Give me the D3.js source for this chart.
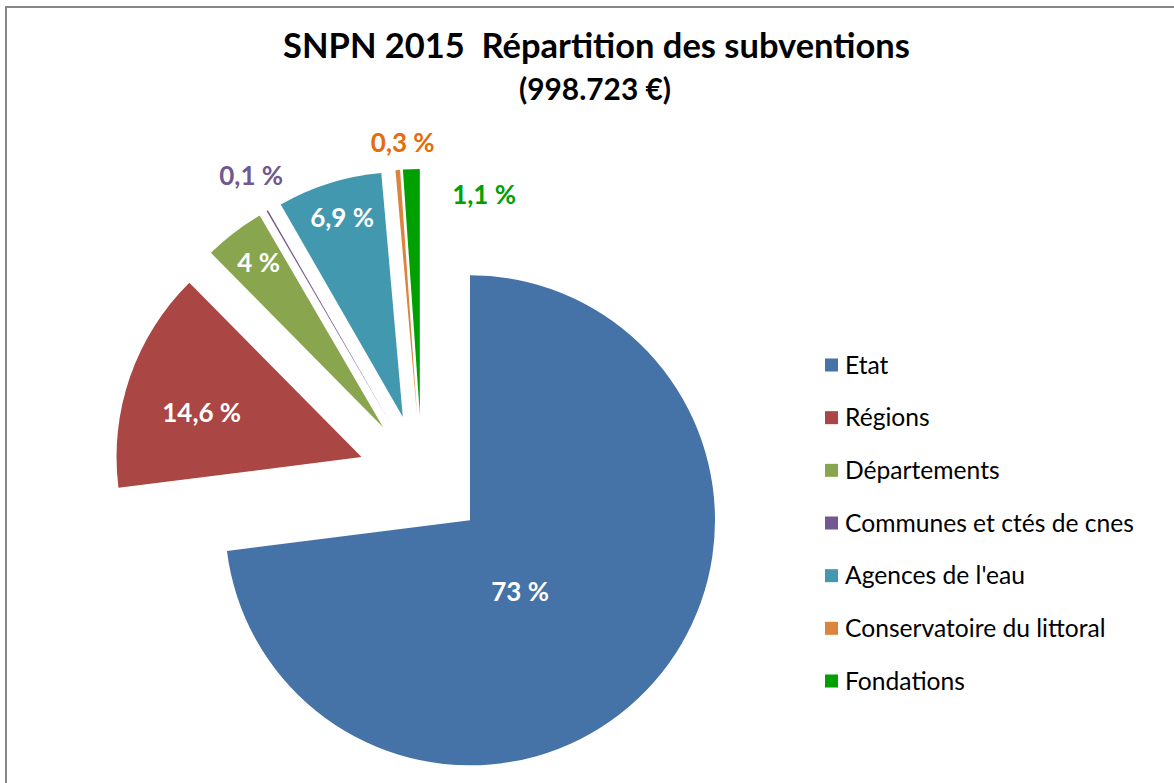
<!DOCTYPE html>
<html><head><meta charset="utf-8">
<script src="https://cdn.jsdelivr.net/npm/d3@7"></script>
<style>html,body{margin:0;padding:0;background:#fff;}svg{display:block;}</style>
</head><body>
<svg id="chart" width="1174" height="783"></svg>
<script>
// ---- data ----
const categories = ["Etat","Régions","Départements","Communes et ctés de cnes","Agences de l'eau","Conservatoire du littoral","Fondations"];
const values = [73, 14.6, 4, 0.1, 6.9, 0.3, 1.1];
const labels = ["73 %","14,6 %","4 %","0,1 %","6,9 %","0,3 %","1,1 %"];
const colors = ["#4572A7","#AA4643","#89A54E","#71588F","#4198AF","#DB843D","#00A000"];
const labelColors = ["#fff","#fff","#fff","#71588F","#fff","#E46C0A","#00A000"];
const titleText = "SNPN 2015  Répartition des subventions";
const subtitleText = "(998.723 €)";

// ---- layout ----
const FONT = "Lato, 'Open Sans', sans-serif";
const svg = d3.select("#chart");
const cx = 422, cy = 478, R = 245, explode = 64;
// label placement: angular shift (deg) and radius
const labelPlace = [
  {shift: 13.4, r: 87},
  {shift: -3.4, r: 166},
  {shift: 0.3, r: 206},
  {shift: 0.7, r: 283},
  {shift: 0.5, r: 208},
  {shift: 1.5, r: 272},
  {shift: 18.3, r: 229}
];

// border
svg.append("path").attr("d","M6,783 V7 H1174").attr("fill","none").attr("stroke","#878787").attr("stroke-width",2);

function fit(sel, target){
  const w = sel.node().getComputedTextLength();
  const fs = parseFloat(sel.attr("font-size"));
  sel.attr("font-size", fs*target/w);
}

// title
const t1 = svg.append("text").attr("x",596.5).attr("y",58).attr("text-anchor","middle")
  .style("white-space","pre").attr("xml:space","preserve")
  .attr("font-family",FONT).attr("font-weight","bold").attr("font-size",30).attr("fill","#000").text(titleText);
fit(t1, 627);
const t2 = svg.append("text").attr("x",595).attr("y",100).attr("text-anchor","middle")
  .attr("font-family",FONT).attr("font-weight","bold").attr("font-size",22).attr("fill","#000").text(subtitleText);
fit(t2, 152);

// pie
const pie = d3.pie().sort(null).startAngle(0).endAngle(2*Math.PI)(values);
const arc = d3.arc().innerRadius(0).outerRadius(R);
const g = svg.append("g").attr("transform",`translate(${cx},${cy})`);
const slices = g.selectAll("g.slice").data(pie).join("g").attr("class","slice")
  .attr("transform", d => {
    const m = (d.startAngle + d.endAngle)/2;
    return `translate(${explode*Math.sin(m)},${-explode*Math.cos(m)})`;
  });
slices.append("path").attr("d", arc).attr("fill",(d,i)=>colors[i]);

// labels
const lab = slices.append("text")
  .attr("transform",(d,i)=>{
    const a = (d.startAngle + d.endAngle)/2 + labelPlace[i].shift*Math.PI/180;
    const r = labelPlace[i].r;
    return `translate(${r*Math.sin(a)},${-r*Math.cos(a)})`;
  })
  .attr("text-anchor","middle").attr("dy","0.36em")
  .attr("font-family",FONT).attr("font-weight","bold").attr("font-size",24)
  .attr("fill",(d,i)=>labelColors[i]).text((d,i)=>labels[i]);
const w146 = lab.filter((d,i)=>i===1).node().getComputedTextLength();
lab.attr("font-size", 24*79/w146);

// legend
const leg = svg.append("g");
const rowY = d3.scaleLinear().domain([0,6]).range([365,681]);
const items = leg.selectAll("g").data(categories).join("g").attr("transform",(d,i)=>`translate(825,${rowY(i)})`);
items.append("rect").attr("x",0).attr("y",-6.5).attr("width",13).attr("height",13).attr("fill",(d,i)=>colors[i]);
const lt = items.append("text").attr("x",20).attr("dy","0.35em").attr("font-family",FONT).attr("font-size",20).attr("fill","#000").text(d=>d);
const wc = lt.filter((d,i)=>i===3).node().getComputedTextLength();
lt.attr("font-size", 20*289/wc);
</script>
</body></html>
